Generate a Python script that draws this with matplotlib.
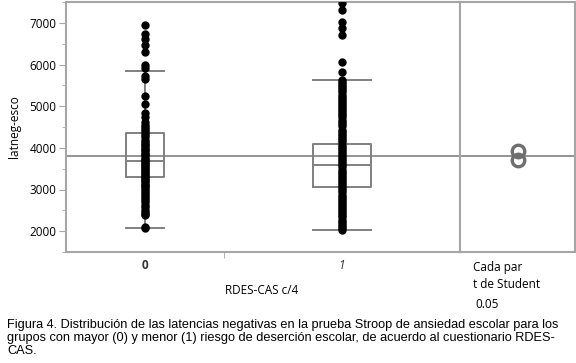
import matplotlib
matplotlib.use("Agg")
import matplotlib.pyplot as plt
from matplotlib.ticker import MultipleLocator

# datos
grupos = ["0", "1"]
n_ancho = [158, 236]          # ancho de cada grupo (proporcional a n)
media_global = 3795

lat_g0 = [2080, 2110, 2380, 2420, 2470, 2520, 2580, 2630, 2690, 2740, 2800,
          2850, 2900, 2950, 3000, 3040, 3080, 3120, 3160, 3200, 3240, 3280,
          3310, 3350, 3380, 3420, 3450, 3490, 3520, 3560, 3590, 3630, 3660,
          3700, 3740, 3780, 3820, 3860, 3900, 3940, 3980, 4020, 4060, 4100,
          4150, 4200, 4250, 4300, 4350, 4400, 4450, 4500, 4560, 4620, 4750,
          4830, 5050, 5240, 5660, 5730, 5920, 5980, 6300, 6460, 6620, 6730,
          6950]
lat_g1 = [2030, 2080, 2130, 2180, 2230, 2280, 2330, 2380, 2430, 2480, 2530,
          2580, 2630, 2680, 2730, 2780, 2830, 2880, 2930, 2980, 3030, 3080,
          3130, 3180, 3230, 3280, 3330, 3380, 3430, 3480, 3530, 3580, 3630,
          3680, 3730, 3780, 3830, 3880, 3930, 3980, 4030, 4080, 4130, 4180,
          4230, 4280, 4330, 4380, 4430, 4530, 4580, 4630, 4680, 4730, 4780,
          4830, 4880, 4930, 4980, 5030, 5080, 5130, 5180, 5230, 5280, 5330,
          5380, 5430, 5480, 5530, 5580, 5630, 5810, 6070, 6710, 6870, 7010,
          7310, 7470]

q1 = [3292, 3053]
mediana = [3675, 3579]
q3 = [4368, 4081]
bigote_inf = [2072, 2024]
bigote_sup = [5852, 5636]

medias_circ = [3930, 3720]

gris = "#808080"
borde = "#a6a6a6"

fig = plt.figure(figsize=(5.76, 3.63), dpi=100)
ax = fig.add_axes([66/576, 1-252/363, 394/576, 250/363])
ax2 = fig.add_axes([460/576, 1-252/363, 115/576, 250/363])

centros = [n_ancho[0]/2, n_ancho[0] + n_ancho[1]/2]
anchos_caja = [38, 58]

# puntos
ax.plot([centros[0]]*len(lat_g0), lat_g0, "o", color="black", ms=5,
        mec="black", zorder=3)
ax.plot([centros[1]]*len(lat_g1), lat_g1, "o", color="black", ms=5,
        mec="black", zorder=3)

# cajas
stats = []
for i in range(2):
    stats.append(dict(q1=q1[i], med=mediana[i], q3=q3[i],
                      whislo=bigote_inf[i], whishi=bigote_sup[i], fliers=[]))
lp = dict(color=gris, lw=1.4)
ax.bxp(stats, positions=centros, widths=anchos_caja, capwidths=anchos_caja,
       boxprops=lp, medianprops=lp, whiskerprops=lp, capprops=lp,
       showfliers=False, manage_ticks=False, zorder=2)

ax.axhline(media_global, color=gris, lw=1.2, zorder=1)
ax.set_xlim(0, sum(n_ancho))
ax.set_ylim(1500, 7500)
ax.yaxis.set_major_locator(MultipleLocator(1000))
ax.yaxis.set_minor_locator(MultipleLocator(500))
ax.set_yticks(range(2000, 7001, 1000))
ax.set_xticks(centros)
ax.set_xticklabels([])
ax.set_xticks([n_ancho[0]], minor=True)
ax.tick_params(axis="x", which="major", length=0)
ax.tick_params(axis="x", which="minor", length=4, color=borde)
ax.tick_params(axis="y", which="major", length=5, color=borde, labelsize=8.5,
               pad=2)
ax.tick_params(axis="y", which="minor", length=3, color=borde)
for lab in ax.get_yticklabels():
    lab.set_family("Open Sans")

for a in (ax, ax2):
    for s in a.spines.values():
        s.set_color(borde)
        s.set_linewidth(1.5)

ax.set_ylabel("latneg-esco", family="Open Sans", fontsize=8.5, labelpad=6)

ax.text(centros[0], 1500 - 330, grupos[0], ha="center", va="center",
        family="Open Sans", fontsize=8.5, fontweight="bold", color="#333333")
ax.text(centros[1], 1500 - 330, grupos[1], ha="center", va="center",
        family="Open Sans", fontsize=8.5, style="italic", color="#333333")
fig.text(262/576, 1-291/363, "RDES-CAS c/4", ha="center", va="center",
         family="Open Sans", fontsize=8.5)

# circulos de comparacion
ax2.axhline(media_global, color=gris, lw=1.2)
ax2.plot([0.5]*len(medias_circ), medias_circ, "o", mfc="none", mec="#6e6e6e",
         mew=2.4, ms=9)
ax2.set_xlim(0, 1)
ax2.set_ylim(1500, 7500)
ax2.set_xticks([])
ax2.set_yticks([])

fig.text(473/576, 1-267/363, "Cada par", ha="left", va="center",
         family="Open Sans", fontsize=8.5)
fig.text(473/576, 1-285/363, "t de Student", ha="left", va="center",
         family="Open Sans", fontsize=8.5)
fig.text(475/576, 1-304/363, "0.05", ha="left", va="center",
         family="Open Sans", fontsize=8.5)

cap = ("Figura 4. Distribución de las latencias negativas en la prueba Stroop de ansiedad escolar para los\n"
       "grupos con mayor (0) y menor (1) riesgo de deserción escolar, de acuerdo al cuestionario RDES-\n"
       "CAS.")
fig.text(7/576, 1-319/363, cap, ha="left", va="top", family="Liberation Sans",
         fontsize=9.2, linespacing=1.13)

fig.savefig("out.png", dpi=100)
